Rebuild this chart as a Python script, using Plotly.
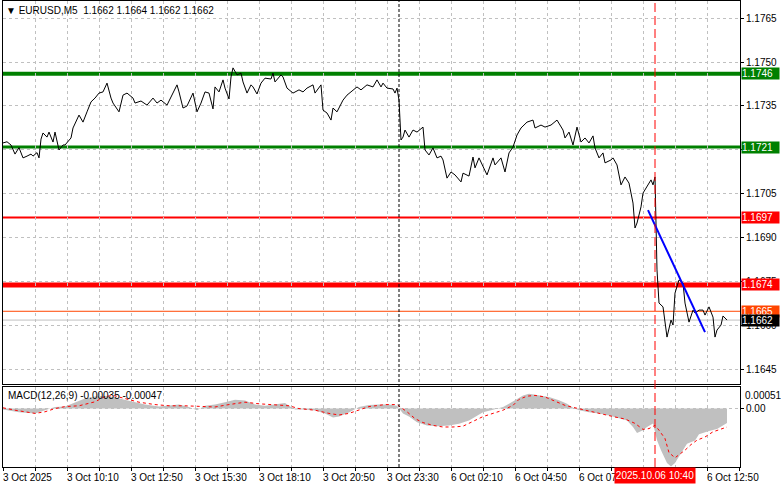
import plotly.graph_objects as go

# M5 bar index counted from the left edge of the chart, with the close
bars = [0, 2, 4, 6, 8, 10, 12, 14, 15, 17, 18, 19, 20, 22, 23, 25, 26, 28, 30, 31,
        34, 35, 38, 40, 42, 44, 46, 48, 50, 52, 54, 55, 58, 60, 62, 65, 66, 69, 72, 75,
        77, 79, 82, 85, 87, 88, 90, 92, 95, 97, 99, 101, 103, 105, 106, 108, 110, 111, 113, 114,
        115, 117, 119, 120, 122, 124, 125, 127, 129, 131, 134, 135, 136, 139, 140, 142, 145, 148, 150, 152,
        155, 156, 159, 160, 162, 164, 165, 167, 170, 172, 174, 177, 179, 182, 185, 187, 189, 190, 192, 195,
        196, 197, 198, 199, 200, 201, 203, 205, 207, 210, 211, 213, 215, 217, 219, 220, 222, 224, 226, 229,
        230, 233, 235, 236, 238, 240, 242, 245, 246, 249, 251, 253, 255, 257, 259, 262, 265, 266, 269, 271,
        274, 277, 280, 281, 283, 285, 287, 289, 291, 293, 295, 296, 298, 300, 301, 304, 305, 307, 309, 311,
        313, 315, 316, 317, 319, 320, 322, 324, 325, 326, 327, 328, 330, 331, 332, 334, 335, 336, 338, 340,
        341, 343, 345, 346, 348, 350, 351, 353, 355, 356, 357, 359, 360, 362]
close = [1.17224, 1.17228, 1.17217, 1.17186, 1.17208, 1.17173, 1.17179, 1.17186, 1.17179, 1.17191,
         1.17173, 1.17237, 1.17258, 1.17244, 1.17261, 1.17227, 1.17261, 1.17200, 1.17217, 1.17217,
         1.17241, 1.17275, 1.17319, 1.17295, 1.17330, 1.17364, 1.17377, 1.17394, 1.17398, 1.17428,
         1.17377, 1.17360, 1.17330, 1.17387, 1.17394, 1.17377, 1.17360, 1.17367, 1.17353, 1.17377,
         1.17360, 1.17370, 1.17353, 1.17398, 1.17422, 1.17398, 1.17343, 1.17350, 1.17394, 1.17330,
         1.17360, 1.17398, 1.17394, 1.17340, 1.17415, 1.17398, 1.17439, 1.17411, 1.17374, 1.17449,
         1.17480, 1.17456, 1.17462, 1.17432, 1.17394, 1.17422, 1.17415, 1.17391, 1.17428, 1.17445,
         1.17442, 1.17462, 1.17432, 1.17456, 1.17449, 1.17411, 1.17394, 1.17405, 1.17398, 1.17411,
         1.17422, 1.17394, 1.17422, 1.17336, 1.17326, 1.17302, 1.17343, 1.17330, 1.17370, 1.17387,
         1.17398, 1.17415, 1.17405, 1.17422, 1.17415, 1.17439, 1.17415, 1.17428, 1.17411, 1.17408,
         1.17394, 1.17411, 1.17370, 1.17234, 1.17244, 1.17268, 1.17244, 1.17268, 1.17261, 1.17278,
         1.17200, 1.17183, 1.17207, 1.17173, 1.17179, 1.17166, 1.17104, 1.17125, 1.17115, 1.17091,
         1.17121, 1.17111, 1.17176, 1.17139, 1.17173, 1.17142, 1.17115, 1.17173, 1.17149, 1.17173,
         1.17125, 1.17190, 1.17210, 1.17251, 1.17275, 1.17295, 1.17302, 1.17275, 1.17285, 1.17278,
         1.17285, 1.17302, 1.17268, 1.17241, 1.17261, 1.17217, 1.17278, 1.17227, 1.17241, 1.17224,
         1.17248, 1.17207, 1.17173, 1.17190, 1.17156, 1.17166, 1.17173, 1.17149, 1.17081, 1.17108,
         1.17087, 1.17019, 1.16934, 1.16951, 1.17006, 1.17053, 1.17074, 1.17098, 1.17081, 1.17108,
         1.16791, 1.16678, 1.16665, 1.16610, 1.16562, 1.16620, 1.16603, 1.16712, 1.16757, 1.16746,
         1.16678, 1.16613, 1.16654, 1.16644, 1.16654, 1.16654, 1.16637, 1.16665, 1.16630, 1.16562,
         1.16586, 1.16603, 1.16634, 1.16620]

# MACD(12,26,9): main line (grey histogram) and signal (red dots)
macd_bars = [0, 8, 16, 21, 26, 31, 36, 41, 46, 51, 56, 61, 66, 71, 78, 83, 88, 93, 97, 101,
             106, 111, 116, 121, 126, 131, 136, 141, 143, 146, 151, 156, 161, 165, 168, 173, 178, 183, 188, 193,
             197, 198, 200, 203, 207, 212, 217, 223, 228, 233, 237, 240, 245, 250, 253, 257, 260, 263, 268, 273,
             278, 282, 285, 288, 293, 298, 303, 308, 312, 315, 317, 320, 322, 325, 327, 329, 332, 334, 336, 338,
             340, 342, 346, 348, 353, 357, 362]
macd_main = [-0.00002, -0.00009, -0.00012, -0.00004, 0.00004, 0.00005, 0.00016, 0.00025, 0.00030, 0.00032,
             0.00028, 0.00022, 0.00016, 0.00010, 0.00005, 0.00007, 0.00010, 0.00004, -0.00004, 0.00007,
             0.00010, 0.00016, 0.00022, 0.00020, 0.00010, 0.00007, 0.00010, 0.00014, 0.00007, -0.00002,
             -0.00002, -0.00005, -0.00012, -0.00022, -0.00020, -0.00010, 0.00004, 0.00009, 0.00010, 0.00010,
             0.00007, 0.00000, -0.00012, -0.00020, -0.00034, -0.00042, -0.00044, -0.00042, -0.00038, -0.00030,
             -0.00017, -0.00009, -0.00003, 0.00004, 0.00012, 0.00025, 0.00033, 0.00037, 0.00033, 0.00029,
             0.00021, 0.00012, 0.00002, -0.00004, -0.00009, -0.00012, -0.00017, -0.00025, -0.00030, -0.00046,
             -0.00061, -0.00054, -0.00046, -0.00037, -0.00079, -0.00104, -0.00136, -0.00145, -0.00136, -0.00120,
             -0.00105, -0.00088, -0.00080, -0.00064, -0.00056, -0.00051, -0.00036]
signal_bars = [0, 6, 16, 21, 26, 31, 38, 46, 51, 55, 61, 68, 76, 83, 91, 98, 106, 113, 121, 128,
               136, 143, 148, 156, 163, 168, 173, 178, 183, 191, 197, 202, 206, 210, 215, 220, 225, 230, 235, 240,
               245, 250, 255, 258, 262, 266, 271, 276, 281, 286, 291, 296, 301, 306, 311, 316, 320, 323, 326, 328,
               331, 333, 336, 341, 344, 347, 351, 355, 358, 362]
macd_signal = [0.00002, -0.00004, -0.00012, -0.00008, 0.00000, 0.00005, 0.00007, 0.00017, 0.00030, 0.00033,
               0.00025, 0.00016, 0.00010, 0.00007, 0.00007, 0.00005, 0.00004, 0.00010, 0.00016, 0.00012,
               0.00010, 0.00007, 0.00000, -0.00004, -0.00012, -0.00016, -0.00012, -0.00004, 0.00005, 0.00010,
               0.00010, -0.00008, -0.00025, -0.00035, -0.00042, -0.00046, -0.00046, -0.00044, -0.00033, -0.00020,
               -0.00012, -0.00004, 0.00008, 0.00023, 0.00031, 0.00033, 0.00029, 0.00019, 0.00008, 0.00002,
               -0.00004, -0.00010, -0.00016, -0.00021, -0.00026, -0.00037, -0.00052, -0.00050, -0.00042, -0.00054,
               -0.00075, -0.00110, -0.00123, -0.00104, -0.00090, -0.00079, -0.00071, -0.00058, -0.00053, -0.00046]

# horizontal levels drawn on the chart
levels = [1.1746, 1.1721, 1.1697, 1.1674, 1.1665]
level_colors = ["#008000", "#008000", "#FF0000", "#FF0000", "#FF4500"]
level_widths = [4, 3, 2, 5, 1]
bid = 1.1662

# blue trend line
trend_bars = [322.5, 351]
trend_prices = [1.16995, 1.16579]

time_ticks = [0, 32, 64, 96, 128, 160, 192, 224, 256, 288, 320, 352]
time_labels = ["3 Oct 2025", "3 Oct 10:10", "3 Oct 12:50", "3 Oct 15:30", "3 Oct 18:10", "3 Oct 20:50",
               "3 Oct 23:30", "6 Oct 02:10", "6 Oct 04:50", "6 Oct 07:30", "6 Oct 10:10", "6 Oct 12:50"]
separator_bar = 198
cursor_bar = 326
cursor_label = "2025.10.06 10:40"

price_ticks = [1.1645, 1.1660, 1.1675, 1.1690, 1.1705, 1.1720, 1.1735, 1.1750, 1.1765]
macd_max, macd_min = 0.00051, -0.00149

FONT = "Liberation Sans, Arial, sans-serif"
GRID = "#C0C0C0"

fig = go.Figure()
fig.add_trace(go.Scatter(x=macd_bars, y=macd_main, mode="lines", fill="tozeroy",
                         fillcolor="#C0C0C0", line=dict(width=0, color="#C0C0C0"),
                         xaxis="x2", yaxis="y2"))
fig.add_trace(go.Scatter(x=signal_bars, y=macd_signal, mode="lines",
                         line=dict(color="red", width=1, dash="dot"), xaxis="x2", yaxis="y2"))
fig.add_trace(go.Scatter(x=bars, y=close, mode="lines", line=dict(color="black", width=1)))
fig.add_trace(go.Scatter(x=trend_bars, y=trend_prices, mode="lines", line=dict(color="blue", width=2)))

# level lines + price tags on the right scale
for lv, col, w in zip(levels, level_colors, level_widths):
    fig.add_shape(type="line", xref="paper", yref="y", x0=0, x1=1, y0=lv, y1=lv,
                  line=dict(color=col, width=w), layer="below")
fig.add_shape(type="line", xref="paper", yref="y", x0=0, x1=1, y0=bid, y1=bid,
              line=dict(color=GRID, width=1), layer="below")

tags = list(zip(levels, level_colors)) + [(bid, "black")]
for lv, col in tags:
    fig.add_annotation(x=1, xref="paper", y=lv, yref="y", xanchor="left", xshift=1,
                       text=f"{lv:.4f}", showarrow=False, bgcolor=col, align="left",
                       width=37, height=11, borderpad=0,
                       font=dict(family=FONT, size=10, color="white"))

# vertical separators: day break and cursor
fig.add_shape(type="line", xref="x", yref="paper", x0=separator_bar, x1=separator_bar, y0=0, y1=1,
              line=dict(color="black", width=1, dash="3px,2px"))
fig.add_shape(type="line", xref="x", yref="paper", x0=cursor_bar, x1=cursor_bar, y0=0, y1=1,
              line=dict(color="red", width=1, dash="9px,4px"))

# time labels, left aligned to their tick
for tb, tl in zip(time_ticks, time_labels):
    fig.add_annotation(x=tb, xref="x2", y=0, yref="paper", xanchor="left", yanchor="top",
                       xshift=-2, yshift=-3, text=tl, showarrow=False,
                       font=dict(family=FONT, size=10, color="black"))
fig.add_annotation(x=cursor_bar, xref="x2", y=0, yref="paper", xanchor="center", yanchor="top",
                   yshift=0, text=cursor_label, showarrow=False, bgcolor="red", borderpad=1,
                   width=78, height=13, font=dict(family=FONT, size=10, color="white"))

# MACD scale extremes
fig.add_annotation(x=1, xref="paper", y=macd_max, yref="y2", xanchor="left", xshift=3, yshift=-7,
                   text=f"{macd_max:.5f}", showarrow=False, font=dict(family=FONT, size=10, color="black"))
fig.add_annotation(x=1, xref="paper", y=macd_min, yref="y2", xanchor="left", xshift=3, yshift=7,
                   text=f"{macd_min:.5f}", showarrow=False, font=dict(family=FONT, size=10, color="black"))

fig.add_annotation(x=0, xref="paper", y=1, yref="paper", xanchor="left", yanchor="top",
                   xshift=1, yshift=-2, showarrow=False,
                   text="▼ EURUSD,M5&nbsp; 1.1662 1.1664 1.1662 1.1662",
                   font=dict(family=FONT, size=10, color="black"))
fig.add_annotation(x=0, xref="paper", y=0.1717, yref="paper", xanchor="left", yanchor="top",
                   xshift=3, yshift=-1, showarrow=False,
                   text="MACD(12,26,9) -0.00035 -0.00047",
                   font=dict(family=FONT, size=10, color="black"))

xcommon = dict(range=[0, 368.5], showline=True, mirror=True, linecolor="black", linewidth=1,
               tick0=0, dtick=16, showgrid=True, gridcolor=GRID, griddash="3px,3px",
               zeroline=False, showticklabels=False)
fig.update_layout(
    width=781, height=489,
    margin=dict(l=3, r=41, t=1, b=22),
    paper_bgcolor="white", plot_bgcolor="white",
    showlegend=False,
    font=dict(family=FONT, size=10, color="black"),
    xaxis=dict(domain=[0, 1], anchor="y", ticks="", **xcommon),
    xaxis2=dict(domain=[0, 1], anchor="y2", matches="x", ticks="outside", ticklen=3,
                tickcolor="black", **xcommon),
    yaxis=dict(domain=[0.1781, 1], anchor="x", side="right", range=[1.16402, 1.17708],
               tickvals=price_ticks, ticktext=[f"{v:.4f}" for v in price_ticks],
               ticks="outside", ticklen=3, tickcolor="black",
               showline=True, mirror=True, linecolor="black",
               showgrid=True, gridcolor=GRID, griddash="3px,3px", zeroline=False),
    yaxis2=dict(domain=[0, 0.1717], anchor="x2", side="right", range=[-0.00146, 0.00054],
                tickvals=[0], ticktext=["0.00"], ticks="outside", ticklen=3, tickcolor="black",
                showline=True, mirror=True, linecolor="black",
                showgrid=True, gridcolor=GRID, griddash="3px,3px", zeroline=False),
)

# the page body has a default 8px margin; drop it so the figure fills the window
fig.write_html("out.html", config={"displayModeBar": False},
               post_script="document.body.style.margin='0';")
